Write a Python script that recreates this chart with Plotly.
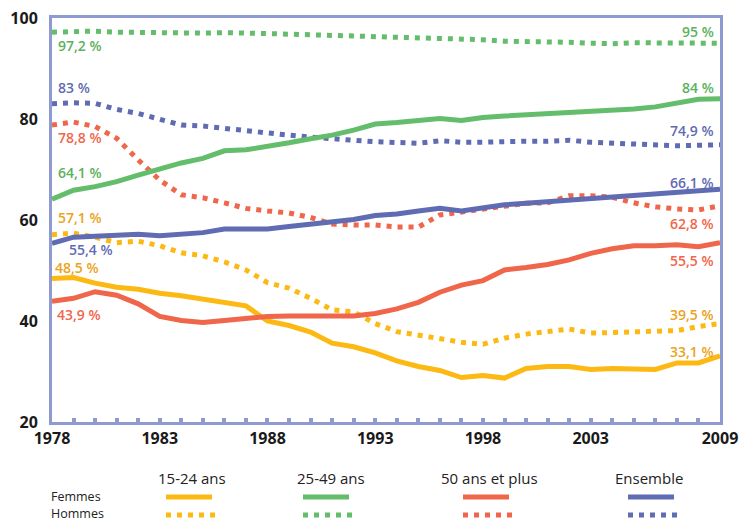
import plotly.graph_objects as go

years = list(range(1978, 2010))

femmes_15_24 = [48.4, 48.6, 47.5, 46.7, 46.3, 45.5, 45.0, 44.3, 43.8, 43.0, 40.0, 39.1, 37.8, 35.6, 34.9, 33.7,
                32.1, 31.0, 30.2, 28.8, 29.2, 28.7, 30.6, 31.0, 31.0, 30.4, 30.6, 30.4, 30.4, 31.7, 31.7, 33.1]
hommes_15_24 = [57.1, 57.4, 56.6, 55.5, 55.8, 54.9, 53.5, 52.9, 51.7, 50.1, 47.6, 46.5, 44.5, 42.2, 41.8, 39.5,
                37.9, 37.2, 36.7, 35.8, 35.4, 36.6, 37.4, 38.0, 38.4, 37.6, 37.7, 37.8, 37.8, 38.1, 38.9, 39.5]
femmes_25_49 = [64.1, 65.9, 66.6, 67.6, 68.9, 70.2, 71.3, 72.2, 73.7, 73.9, 74.5, 75.3, 76.1, 76.8, 77.8, 79.0,
                79.3, 79.8, 80.1, 79.7, 80.3, 80.6, 80.8, 81.1, 81.3, 81.6, 81.8, 82.0, 82.4, 83.2, 83.9, 84.0]
hommes_25_49 = [97.2, 97.3, 97.4, 97.2, 97.1, 97.1, 97.0, 97.0, 97.1, 97.1, 96.9, 96.8, 96.7, 96.6, 96.4, 96.2,
                96.1, 96.2, 96.1, 96.0, 95.7, 95.4, 95.4, 95.4, 95.2, 95.0, 94.9, 95.1, 95.1, 95.1, 95.2, 95.0]
femmes_50 = [43.9, 44.5, 45.8, 45.1, 43.4, 40.9, 40.1, 39.7, 40.1, 40.5, 40.9, 41.0, 41.1, 41.0, 41.0, 41.5,
             42.4, 43.7, 45.7, 47.1, 48.0, 50.1, 50.6, 51.2, 52.1, 53.4, 54.3, 54.9, 54.9, 55.1, 54.7, 55.5]
hommes_50 = [78.8, 79.4, 78.5, 76.2, 71.9, 67.9, 65.0, 64.4, 63.4, 62.3, 61.8, 61.4, 60.5, 59.2, 59.0, 59.0,
             58.6, 58.6, 61.0, 61.6, 62.3, 62.7, 63.3, 63.4, 64.8, 64.8, 64.5, 63.4, 62.6, 62.2, 62.0, 62.8]
femmes_ens = [55.4, 56.6, 56.8, 57.0, 57.2, 56.9, 57.2, 57.5, 58.2, 58.3, 58.2, 58.7, 59.1, 59.5, 60.1, 60.9,
              61.2, 61.8, 62.3, 61.8, 62.5, 63.0, 63.3, 63.6, 64.1, 64.4, 64.6, 64.9, 65.1, 65.4, 65.7, 66.1]
hommes_ens = [83.0, 83.2, 83.1, 81.9, 81.1, 80.0, 78.8, 78.6, 78.1, 77.7, 77.1, 76.8, 76.4, 76.0, 75.8, 75.5,
              75.4, 75.2, 75.7, 75.4, 75.4, 75.6, 75.6, 75.6, 75.8, 75.4, 75.2, 75.0, 74.9, 74.7, 74.8, 74.9]

groups = ["15-24 ans", "25-49 ans", "50 ans et plus", "Ensemble"]
rows = ["Femmes", "Hommes"]
x_tick_vals = [1978, 1983, 1988, 1993, 1998, 2003, 2009]
y_tick_vals = [20, 40, 60, 80, 100]

line_colors = ["#fdb913", "#63bd6b", "#f0664a", "#5f6bb3"]
text_colors = ["#eaa31a", "#5cb15c", "#f0664a", "#5f6bb3"]
frame = "#8f9ad0"
FONT = "Open Sans"

series = [
    (femmes_15_24, hommes_15_24),
    (femmes_25_49, hommes_25_49),
    (femmes_50, hommes_50),
    (femmes_ens, hommes_ens),
]

fig = go.Figure()
DOT = "5px,6px"
for i, (fem, hom) in enumerate(series):
    fig.add_trace(go.Scatter(x=years, y=hom, mode="lines", name=groups[i] + " H",
                             line=dict(color=line_colors[i], width=5, dash=DOT), showlegend=False))
for i, (fem, hom) in enumerate(series):
    fig.add_trace(go.Scatter(x=years, y=fem, mode="lines", name=groups[i] + " F",
                             line=dict(color=line_colors[i], width=5), showlegend=False))

left_labels = [("97,2 %", 1, 94.6, 1978.2), ("83 %", 3, 86.3, 1978.2), ("78,8 %", 2, 76.4, 1978.2),
               ("64,1 %", 1, 69.5, 1978.2), ("57,1 %", 0, 60.4, 1978.2), ("55,4 %", 3, 54.1, 1978.7),
               ("48,5 %", 0, 50.6, 1978.05), ("43,9 %", 2, 41.2, 1978.15)]
right_labels = [("95 %", 1, 97.4), ("84 %", 1, 86.3), ("74,9 %", 3, 77.8), ("66,1 %", 3, 67.5),
                ("62,8 %", 2, 59.4), ("55,5 %", 2, 51.9), ("39,5 %", 0, 41.2), ("33,1 %", 0, 33.9)]

annotations = []
for t, ci, yv, xv in left_labels:
    annotations.append(dict(x=xv, y=yv, xref="x", yref="y", text=t, showarrow=False, xanchor="left",
                            yanchor="middle", font=dict(family=FONT, size=14, color=text_colors[ci], weight=600)))
for t, ci, yv in right_labels:
    annotations.append(dict(x=2008.8, y=yv, xref="x", yref="y", text=t, showarrow=False, xanchor="right",
                            yanchor="middle", font=dict(family=FONT, size=14, color=text_colors[ci], weight=600)))

L, R, T, B = 52, 720, 18, 422
def px(xp):
    return (xp - L) / (R - L)
def py(yp):
    return (B - yp) / (B - T)

head_x = [192, 331, 489, 649]
seg_x = [(166, 212), (303, 349), (463, 509), (628, 674)]
shapes = []
for i, g in enumerate(groups):
    annotations.append(dict(x=px(head_x[i]), y=py(478), xref="paper", yref="paper", text=g, showarrow=False,
                            xanchor="center", yanchor="middle", font=dict(family=FONT, size=15, color="#222")))
    x0, x1 = seg_x[i]
    shapes.append(dict(type="line", xref="paper", yref="paper", x0=px(x0), x1=px(x1), y0=py(497), y1=py(497),
                       line=dict(color=line_colors[i], width=5)))
    shapes.append(dict(type="line", xref="paper", yref="paper", x0=px(x0), x1=px(x1 + 3), y0=py(515), y1=py(515),
                       line=dict(color=line_colors[i], width=5, dash=DOT)))
for r, yy in zip(rows, [496, 513]):
    annotations.append(dict(x=px(49), y=py(yy), xref="paper", yref="paper", text=r, showarrow=False,
                            xanchor="left", yanchor="middle", font=dict(family=FONT, size=12.5, color="#222")))

fig.update_layout(
    width=740, height=521,
    margin=dict(l=L, r=740 - R, t=T, b=521 - B),
    paper_bgcolor="white", plot_bgcolor="white",
    annotations=annotations, shapes=shapes,
    showlegend=False,
)
fig.update_xaxes(range=[1978, 2009], tickvals=x_tick_vals, ticktext=[str(v) for v in x_tick_vals],
                 automargin=False,
                 showgrid=False, zeroline=False, showline=True, mirror=True, linecolor=frame, linewidth=3,
                 ticks="inside", ticklen=4, tickwidth=4, tickcolor=frame,
                 minor=dict(dtick=1, tick0=1978, ticks="inside", ticklen=4, tickwidth=4, tickcolor=frame, showgrid=False),
                 tickfont=dict(family=FONT, size=16, color="#1a1a1a", weight=700))
fig.update_yaxes(range=[20, 100], tickvals=y_tick_vals, automargin=False,
                 showgrid=False, zeroline=False, showline=True, mirror=True,
                 linecolor=frame, linewidth=3, ticks="", ticklabelstandoff=8,
                 tickfont=dict(family=FONT, size=16, color="#1a1a1a", weight=700))

fig.write_html("out.html", config={"displayModeBar": False},
               post_script="document.body.style.margin='0';document.body.style.overflow='hidden';")
